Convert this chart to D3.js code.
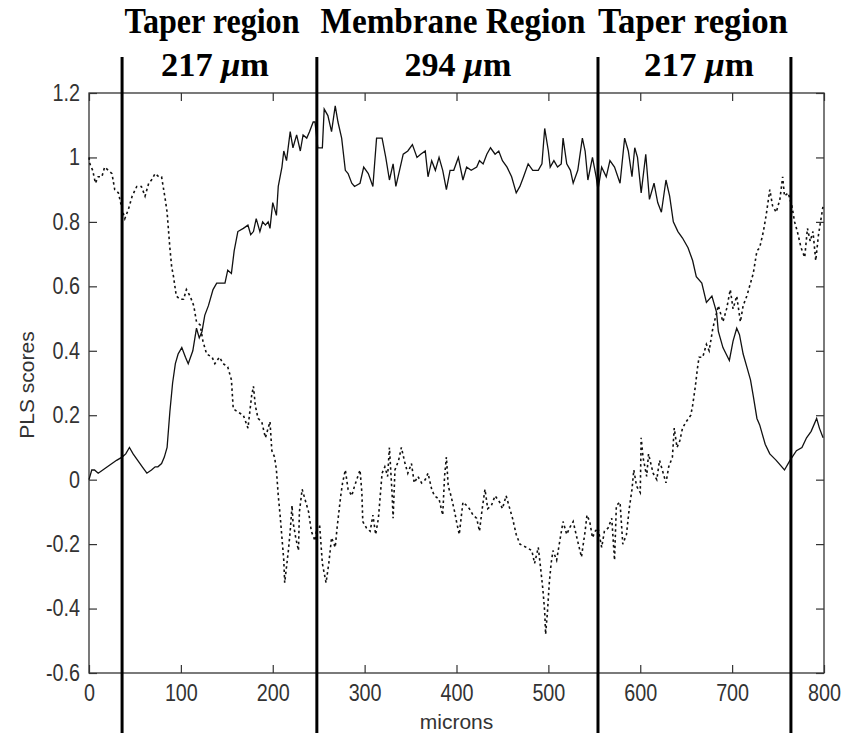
<!DOCTYPE html>
<html>
<head>
<meta charset="utf-8">
<script src="https://cdn.jsdelivr.net/npm/d3@7"></script>
<style>
  html, body { margin: 0; padding: 0; background: #fff; }
  svg { display: block; }
</style>
</head>
<body>
<svg id="chart" width="844" height="736"></svg>
<script>
// ---------- DATA ----------
const xTicks = [0, 100, 200, 300, 400, 500, 600, 700, 800];
const yTicks = [-0.6, -0.4, -0.2, 0, 0.2, 0.4, 0.6, 0.8, 1, 1.2];
const xLabel = "microns";
const yLabel = "PLS scores";

const regionBounds = [36, 248, 554, 764];
const regionNames = ["Taper region", "Membrane Region", "Taper region"];
const regionWidths = ["217", "294", "217"];

// solid series (microns, score)
const solidX = [0,3,6,10,15,20,25,30,36,40,44,48,53,58,63,68,72,75,79,82,85,88,91,94,97,101,105,108,113,117,120,123,126,130,135,139,143,148,151,155,158,162,168,173,176,179,182,186,189,192,195,197,200,204,206,210,212,215,219,222,226,230,233,237,240,244,246,249,254,256,260,264,268,271,275,279,282,286,289,295,299,304,309,313,319,323,327,331,334,338,342,347,352,357,361,366,369,373,377,381,385,389,393,397,402,407,411,416,422,425,429,433,437,442,446,450,455,460,465,469,473,478,483,489,493,496,500,502,506,510,514,516,520,524,527,532,537,540,543,548,552,554,558,563,567,572,578,583,587,591,594,597,601,606,610,615,619,623,628,632,636,641,646,652,657,661,667,672,678,683,685,690,697,701,705,708,712,716,720,723,727,730,736,741,748,757,763,770,776,781,786,792,795,799];
const solidY = [0.00,0.03,0.03,0.02,0.03,0.04,0.05,0.06,0.07,0.08,0.10,0.08,0.06,0.04,0.02,0.03,0.04,0.04,0.05,0.07,0.10,0.21,0.30,0.36,0.39,0.41,0.38,0.36,0.40,0.47,0.44,0.46,0.51,0.54,0.59,0.61,0.61,0.61,0.65,0.64,0.71,0.77,0.78,0.79,0.76,0.77,0.81,0.77,0.80,0.79,0.80,0.78,0.86,0.82,0.91,0.97,1.02,0.99,1.08,1.03,1.07,1.02,1.07,1.06,1.08,1.11,1.11,1.03,1.03,1.15,1.13,1.08,1.16,1.11,1.06,0.96,0.95,0.92,0.91,0.92,0.97,0.95,0.91,1.06,1.06,1.00,0.93,0.98,0.91,0.96,1.01,1.02,1.04,1.00,1.01,1.02,0.94,0.99,0.96,1.00,0.96,0.90,0.96,0.96,1.00,0.93,0.97,0.96,0.97,0.99,0.98,1.01,1.03,1.01,1.02,0.99,0.97,0.94,0.89,0.91,0.94,0.98,0.96,0.96,0.98,1.09,1.02,0.97,0.99,0.97,0.98,1.06,0.98,0.96,0.92,0.96,1.06,1.02,0.93,1.00,0.94,0.90,0.97,0.94,0.99,0.97,0.92,1.06,1.02,0.94,1.03,1.00,0.89,1.01,0.87,0.92,0.86,0.83,0.93,0.88,0.80,0.77,0.75,0.72,0.68,0.63,0.61,0.55,0.57,0.52,0.46,0.41,0.37,0.43,0.47,0.45,0.39,0.35,0.31,0.26,0.19,0.17,0.11,0.08,0.06,0.03,0.06,0.09,0.10,0.13,0.15,0.19,0.16,0.13];

// dashed series (microns, score)
const dashX = [0,1,4,7,10,14,17,21,25,28,32,36,39,43,47,52,57,61,65,68,72,76,79,83,85,88,90,92,95,99,103,106,110,114,117,121,124,128,134,137,142,146,151,155,157,162,168,173,177,179,181,184,188,192,195,197,199,202,204,206,208,210,212,213,215,217,219,221,222,225,228,229,232,235,239,242,246,248,251,254,258,261,264,268,270,274,276,279,282,286,289,295,297,298,302,306,309,312,315,319,322,325,327,330,331,333,337,340,344,347,351,354,358,362,366,369,373,376,381,385,387,389,391,394,398,400,403,407,411,414,418,422,425,428,431,434,438,442,447,450,454,457,461,465,469,476,482,485,489,491,494,496,497,499,501,503,505,509,513,516,520,523,527,531,536,540,542,545,548,551,554,558,561,565,569,572,574,578,581,585,588,591,593,596,600,601,603,607,609,614,618,621,625,628,631,635,637,640,643,646,650,655,657,660,662,664,668,672,675,679,685,690,694,698,701,705,709,712,716,719,723,727,730,734,737,741,744,748,752,755,757,761,765,768,771,775,779,782,785,788,791,794,799];
const dashY = [1.00,0.98,0.96,0.92,0.94,0.94,0.97,0.96,0.95,0.90,0.89,0.84,0.81,0.84,0.88,0.91,0.91,0.88,0.92,0.93,0.95,0.94,0.94,0.87,0.83,0.72,0.66,0.63,0.57,0.56,0.56,0.59,0.57,0.54,0.49,0.48,0.43,0.39,0.38,0.36,0.38,0.36,0.35,0.31,0.22,0.21,0.20,0.16,0.26,0.29,0.23,0.19,0.18,0.13,0.16,0.18,0.09,0.07,0.03,-0.05,-0.11,-0.18,-0.25,-0.32,-0.27,-0.22,-0.16,-0.08,-0.13,-0.18,-0.22,-0.10,-0.03,-0.06,-0.10,-0.16,-0.19,-0.15,-0.14,-0.26,-0.32,-0.26,-0.18,-0.21,-0.15,-0.05,-0.01,0.03,-0.03,-0.05,-0.02,0.03,-0.04,-0.13,-0.15,-0.16,-0.11,-0.17,-0.12,0.02,0.04,0.01,0.10,-0.05,-0.12,0.03,0.06,0.10,0.05,0.02,0.05,-0.01,0.01,-0.01,0.00,0.02,-0.03,-0.05,-0.06,-0.11,0.01,0.07,-0.02,-0.05,-0.10,-0.13,-0.17,-0.07,-0.08,-0.09,-0.11,-0.12,-0.16,-0.09,-0.03,-0.09,-0.08,-0.05,-0.07,-0.09,-0.05,-0.08,-0.12,-0.17,-0.20,-0.21,-0.22,-0.26,-0.21,-0.26,-0.34,-0.41,-0.48,-0.41,-0.32,-0.26,-0.22,-0.25,-0.18,-0.13,-0.17,-0.15,-0.13,-0.18,-0.24,-0.16,-0.11,-0.13,-0.18,-0.16,-0.15,-0.21,-0.16,-0.15,-0.12,-0.25,-0.08,-0.07,-0.20,-0.17,-0.09,-0.03,0.03,-0.02,-0.04,0.13,0.07,0.01,0.08,0.02,0.00,0.06,0.02,-0.01,0.04,0.07,0.16,0.10,0.12,0.16,0.18,0.20,0.23,0.29,0.34,0.38,0.38,0.42,0.40,0.47,0.54,0.49,0.53,0.59,0.53,0.57,0.49,0.54,0.57,0.60,0.64,0.71,0.72,0.77,0.82,0.90,0.85,0.83,0.87,0.94,0.88,0.89,0.85,0.80,0.77,0.72,0.69,0.78,0.74,0.77,0.68,0.76,0.85];

// ---------- LAYOUT ----------
const W = 844, H = 736;
const plot = { left: 89, right: 824, top: 93, bottom: 673 };
const svg = d3.select("#chart");
const x = d3.scaleLinear().domain([0, 800]).range([plot.left, plot.right]);
const y = d3.scaleLinear().domain([-0.6, 1.2]).range([plot.bottom, plot.top]);
const axisColor = "#333";
const tickFont = "'Liberation Sans', Arial, sans-serif";

svg.append("rect").attr("width", W).attr("height", H).attr("fill", "#fff");

// frame
svg.append("rect")
  .attr("x", plot.left).attr("y", plot.top)
  .attr("width", plot.right - plot.left).attr("height", plot.bottom - plot.top)
  .attr("fill", "none").attr("stroke", axisColor).attr("stroke-width", 1.3);

// plain hyphen-minus like the original (not the typographic minus)
const fmt = d => String(+d.toFixed(1));

function styleAxis(g, horizontal, pad) {
  g.select(".domain").remove();
  g.selectAll(".tick line").attr("stroke", axisColor).attr("stroke-width", 1.2);
  g.selectAll(".tick text")
    .attr("fill", axisColor)
    .style("font-family", tickFont)
    .style("font-size", "23px");
  if (!horizontal) {
    g.selectAll(".tick text").attr("x", 0)
      .attr("transform", `translate(${-pad},0) scale(0.86,1)`);
  } else {
    g.selectAll(".tick text").attr("transform", "scale(0.86,1)");
  }
}

// bottom axis
svg.append("g").attr("transform", `translate(0,${plot.bottom})`)
  .call(d3.axisBottom(x).tickValues(xTicks).tickFormat(fmt).tickSize(-8).tickPadding(12))
  .call(g => styleAxis(g, true));
// top ticks
svg.append("g").attr("transform", `translate(0,${plot.top})`)
  .call(d3.axisTop(x).tickValues(xTicks).tickFormat("").tickSize(-8))
  .call(g => styleAxis(g, true));
// left axis
svg.append("g").attr("transform", `translate(${plot.left},0)`)
  .call(d3.axisLeft(y).tickValues(yTicks).tickFormat(fmt).tickSize(-8).tickPadding(9))
  .call(g => styleAxis(g, false, 9));
// right ticks
svg.append("g").attr("transform", `translate(${plot.right},0)`)
  .call(d3.axisRight(y).tickValues(yTicks).tickFormat("").tickSize(-8))
  .call(g => styleAxis(g, false, 0));

// axis labels
svg.append("text")
  .attr("x", (plot.left + plot.right) / 2).attr("y", 729)
  .attr("text-anchor", "middle")
  .attr("fill", axisColor)
  .style("font-family", tickFont).style("font-size", "21px")
  .text(xLabel);
svg.append("text")
  .attr("transform", `translate(34,${(plot.top + plot.bottom) / 2 + 2}) rotate(-90)`)
  .attr("text-anchor", "middle")
  .attr("fill", axisColor)
  .style("font-family", tickFont).style("font-size", "21px")
  .text(yLabel);

// data lines
const solid = solidX.map((d, i) => [d, solidY[i]]);
const dashed = dashX.map((d, i) => [d, dashY[i]]);
const line = d3.line().x(d => x(d[0])).y(d => y(d[1]));

svg.append("path").datum(dashed)
  .attr("d", line).attr("fill", "none")
  .attr("stroke", "#111").attr("stroke-width", 1.6)
  .attr("stroke-dasharray", "2.5,3");
svg.append("path").datum(solid)
  .attr("d", line).attr("fill", "none")
  .attr("stroke", "#111").attr("stroke-width", 1.3);

// region boundary lines
svg.selectAll("line.region").data(regionBounds).join("line")
  .attr("class", "region")
  .attr("x1", d => x(d)).attr("x2", d => x(d))
  .attr("y1", 57).attr("y2", 733)
  .attr("stroke", "#000").attr("stroke-width", 3);

// region annotations
const titleFont = "'Liberation Serif', 'Times New Roman', serif";
const row1 = [{ cx: 212, w: 175 }, { cx: 453, w: 265 }, { cx: 693, w: 190 }];
const row2 = [{ cx: 215, w: 108 }, { cx: 458, w: 107 }, { cx: 699, w: 110 }];

regionNames.forEach((name, i) => {
  svg.append("text")
    .attr("x", row1[i].cx - row1[i].w / 2).attr("y", 33)
    .attr("textLength", row1[i].w).attr("lengthAdjust", "spacingAndGlyphs")
    .style("font-family", titleFont).style("font-weight", "bold").style("font-size", "35px")
    .attr("fill", "#000")
    .text(name);
  const t = svg.append("text")
    .attr("x", row2[i].cx - row2[i].w / 2).attr("y", 76)
    .attr("textLength", row2[i].w).attr("lengthAdjust", "spacingAndGlyphs")
    .style("font-family", titleFont).style("font-weight", "bold").style("font-size", "34px")
    .attr("fill", "#000");
  t.append("tspan").text(regionWidths[i] + " ");
  t.append("tspan").style("font-style", "italic").text("μ");
  t.append("tspan").text("m");
});
</script>
</body>
</html>
